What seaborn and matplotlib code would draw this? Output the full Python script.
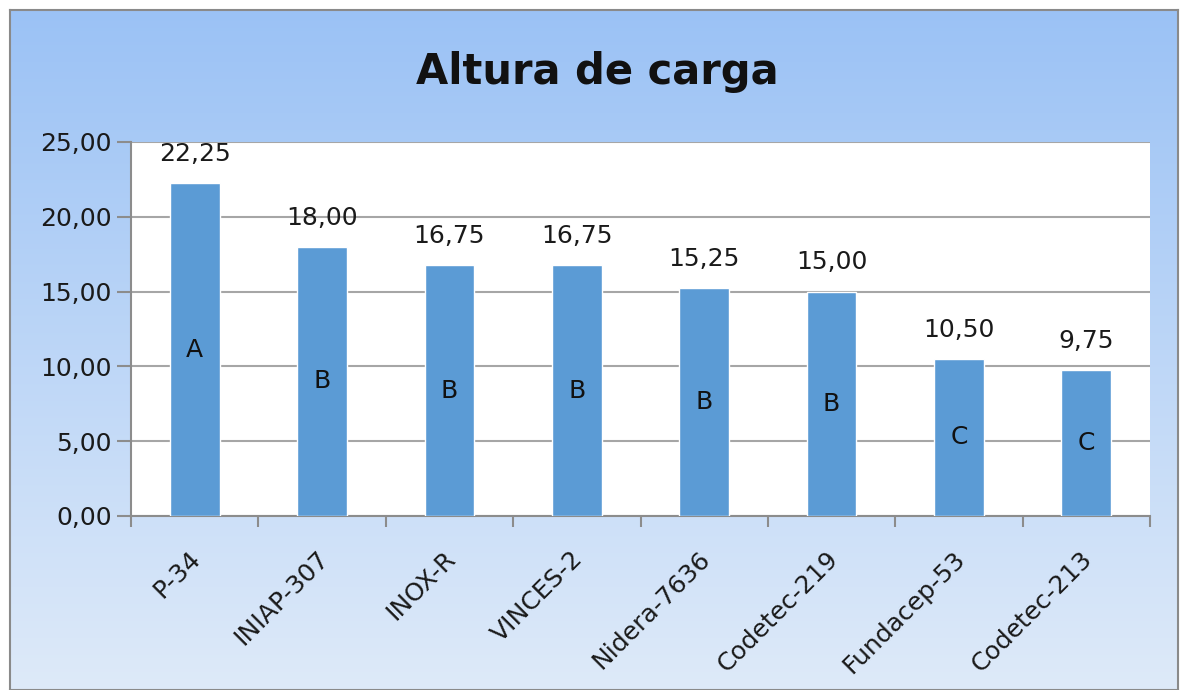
import numpy as np
import matplotlib
matplotlib.use("Agg")
import matplotlib.pyplot as plt
import matplotlib.transforms as mtransforms
import seaborn as sns
from matplotlib.ticker import FixedLocator

varieties = ["P-34", "INIAP-307", "INOX-R", "VINCES-2", "Nidera-7636",
             "Codetec-219", "Fundacep-53", "Codetec-213"]
altura = [22.25, 18.00, 16.75, 16.75, 15.25, 15.00, 10.50, 9.75]
grupos = ["A", "B", "B", "B", "B", "B", "C", "C"]
y_ticks = [0, 5, 10, 15, 20, 25]


def fmt(v):
    return f"{v:.2f}".replace(".", ",")


sns.set_style("white")
plt.rcParams["font.family"] = ["DejaVu Sans"]

fig = plt.figure(figsize=(11.85, 6.9), dpi=100)

# gradient background with frame
bg = fig.add_axes([10 / 1185, 0, 1168 / 1185, 680 / 690], zorder=-10)
grad = np.linspace(0, 1, 256).reshape(-1, 1)
top = np.array([0x9b, 0xc2, 0xf5]) / 255
bot = np.array([0xde, 0xea, 0xf9]) / 255
img = top + (bot - top) * grad[..., None]
bg.imshow(img, aspect="auto", extent=[0, 1, 0, 1], origin="upper")
bg.set_xlim(0, 1)
bg.set_ylim(0, 1)
bg.set_xticks([])
bg.set_yticks([])
for s in bg.spines.values():
    s.set_color("#8a8a8a")
    s.set_linewidth(1.5)

ax = fig.add_axes([131 / 1185, 1 - 516 / 690, 1019 / 1185, 374 / 690])
ax.set_facecolor("white")
sns.barplot(x=varieties, y=altura, color="#5B9BD5", width=0.39,
            saturation=1, ax=ax, zorder=3)

ax.set_ylim(0, 25)
ax.set_xlim(-0.5, len(varieties) - 0.5)
ax.set_yticks(y_ticks)
ax.set_yticklabels([fmt(t) for t in y_ticks], fontsize=18, color="#1a1a1a")
ax.yaxis.grid(True, color="#a6a6a6", linewidth=1.5, zorder=0)
ax.set_axisbelow(True)
ax.set_xlabel("")
ax.set_ylabel("")

ax.set_xticks(range(len(varieties)))
ax.set_xticklabels(varieties, rotation=45, ha="right", rotation_mode="anchor",
                   fontsize=18, color="#1a1a1a")
ax.tick_params(axis="x", which="major", length=0, pad=22)
shift = mtransforms.ScaledTranslation(-6 / 100, 0, fig.dpi_scale_trans)
for lab in ax.get_xticklabels():
    lab.set_transform(lab.get_transform() + shift)
ax.xaxis.set_minor_locator(FixedLocator(np.arange(-0.5, len(varieties), 1)))
ax.tick_params(axis="x", which="minor", length=8, color="#8c8c8c", width=1.5,
               direction="out", bottom=True)
ax.tick_params(axis="y", length=10, color="#8c8c8c", width=1.5,
               direction="out", left=True, pad=4)

for side in ["top", "right"]:
    ax.spines[side].set_visible(False)
for side in ["left", "bottom"]:
    ax.spines[side].set_color("#8c8c8c")
    ax.spines[side].set_linewidth(1.5)

for i, (v, g) in enumerate(zip(altura, grupos)):
    ax.annotate(fmt(v), (i, v), xytext=(0, 21), textcoords="offset points",
                ha="center", va="center", fontsize=18, color="#1a1a1a")
    ax.text(i, v / 2, g, ha="center", va="center", fontsize=18,
            color="#111111", zorder=5)

fig.text(597 / 1185, 1 - 72 / 690, "Altura de carga", ha="center",
         va="center", fontsize=30, fontweight="bold", color="#111111")

fig.savefig("out.png", dpi=100)
